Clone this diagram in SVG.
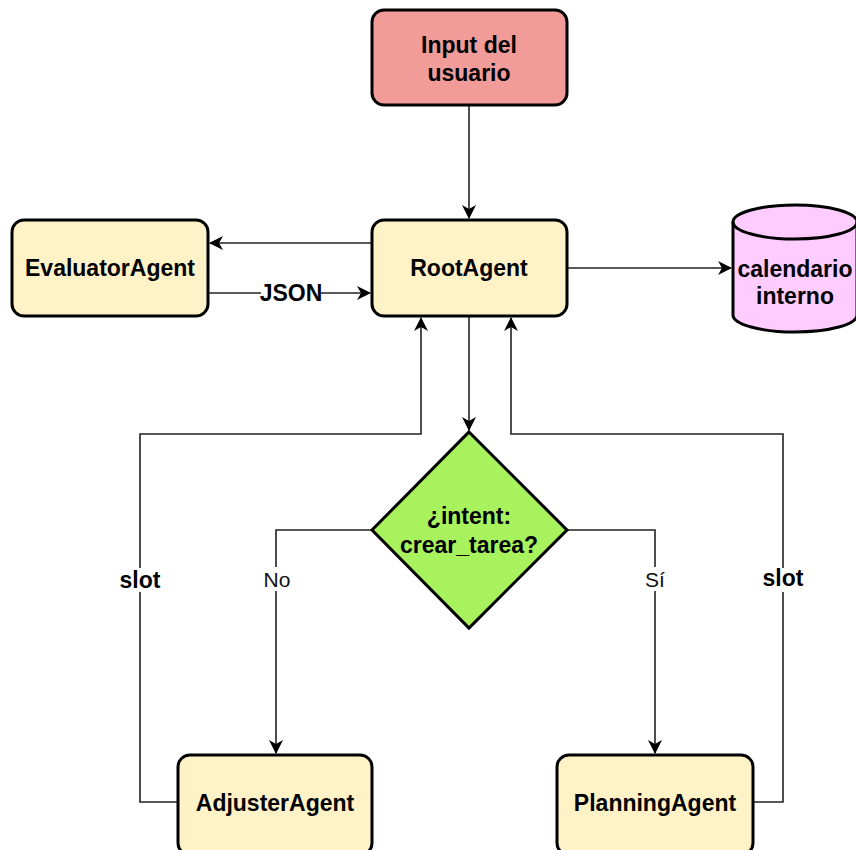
<svg xmlns="http://www.w3.org/2000/svg" width="856" height="850" viewBox="0 0 856 850">
<style>
.box{stroke:#000;stroke-width:3}
.t{font-family:"Liberation Sans",Arial,sans-serif;font-size:23px;font-weight:bold;fill:#000;text-anchor:middle}
.n{font-family:"Liberation Sans",Arial,sans-serif;font-size:21px;fill:#111;text-anchor:middle}
.c{fill:none;stroke:#222;stroke-width:1.6}
.bg{fill:#fff}
</style>
<defs>
<marker id="a" viewBox="0 0 14 14" refX="13" refY="7" markerWidth="14" markerHeight="14" markerUnits="userSpaceOnUse" orient="auto">
<path d="M0,0 L14,7 L0,14 L4,7 z" fill="#000"/>
</marker>
</defs>
<rect width="856" height="850" fill="#fff"/>
<g id="connectors">
<path class="c" d="M469,105 V218" marker-end="url(#a)"/>
<path class="c" d="M372,243 H210" marker-end="url(#a)"/>
<path class="c" d="M208,293 H370" marker-end="url(#a)"/>
<rect class="bg" x="261" y="282" width="60" height="22"/>
<text class="t" x="291" y="301">JSON</text>
<path class="c" d="M567,268 H731" marker-end="url(#a)"/>
<path class="c" d="M469,316 V430" marker-end="url(#a)"/>
<path class="c" d="M372,530 H276 V753" marker-end="url(#a)"/>
<rect class="bg" x="260" y="567" width="34" height="24"/>
<text class="n" x="277" y="587">No</text>
<path class="c" d="M567,530 H655 V753" marker-end="url(#a)"/>
<rect class="bg" x="643" y="567" width="24" height="24"/>
<text class="n" x="655" y="587">Sí</text>
<path class="c" d="M178,802 H140 V434 H421 V318" marker-end="url(#a)"/>
<rect class="bg" x="114" y="568" width="52" height="24"/>
<text class="t" x="140" y="588">slot</text>
<path class="c" d="M753,802 H783 V434 H511 V318" marker-end="url(#a)"/>
<rect class="bg" x="757" y="568" width="52" height="24"/>
<text class="t" x="783" y="586">slot</text>
</g>
<g id="input">
<rect class="box" x="372" y="10" width="195" height="95" rx="12" fill="#F19C99"/>
<text class="t" x="469" y="53">Input del</text>
<text class="t" x="469" y="81">usuario</text>
</g>
<g id="root">
<rect class="box" x="372" y="220" width="195" height="96" rx="12" fill="#FFF2C7"/>
<text class="t" x="469" y="276">RootAgent</text>
</g>
<g id="evaluator">
<rect class="box" x="12" y="220" width="196" height="96" rx="12" fill="#FFF2C7"/>
<text class="t" x="110" y="276">EvaluatorAgent</text>
</g>
<g id="calendario">
<path class="box" d="M733,222 A62,17 0 0 1 857,222 V315 A62,17 0 0 1 733,315 Z" fill="#FFCCFF"/>
<path d="M733,222 A62,17 0 0 0 857,222" fill="none" stroke="#000" stroke-width="3"/>
<text class="t" x="795" y="277">calendario</text>
<text class="t" x="795" y="304">interno</text>
</g>
<g id="decision">
<polygon class="box" points="469,432 567,530 469,628 372,530" fill="#A8F25E"/>
<text class="t" x="469" y="524">¿intent:</text>
<text class="t" x="469" y="553">crear_tarea?</text>
</g>
<g id="adjuster">
<rect class="box" x="178" y="755" width="194" height="100" rx="12" fill="#FFF2C7"/>
<text class="t" x="275" y="811">AdjusterAgent</text>
</g>
<g id="planning">
<rect class="box" x="557" y="755" width="196" height="100" rx="12" fill="#FFF2C7"/>
<text class="t" x="655" y="811">PlanningAgent</text>
</g>
</svg>
